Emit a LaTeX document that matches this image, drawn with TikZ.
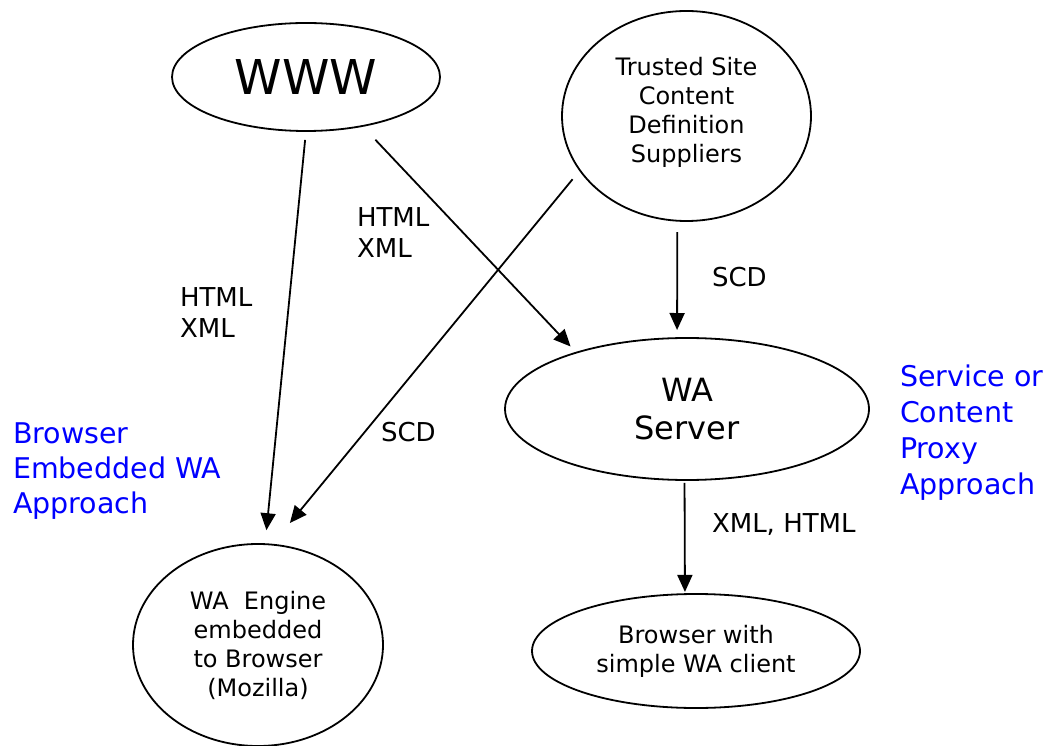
\documentclass[tikz,border=0pt]{standalone}
\usepackage{fontspec}
\setmainfont{DejaVu Sans}
\usetikzlibrary{arrows.meta,shapes.geometric}
\begin{document}
\begin{tikzpicture}[x=1pt,y=1pt,
  every node/.style={inner sep=0pt,outer sep=0pt},
  oval/.style={ellipse,draw,line width=1.8pt,align=center},
  mid/.style={font=\fontsize{24}{29}\selectfont},
  lbl/.style={anchor=base west,align=left,font=\fontsize{26}{31.5}\selectfont},
  approach/.style={anchor=base west,align=left,text={rgb,255:red,0;green,0;blue,255},
    font=\fontsize{28.5}{36}\selectfont},
  flow/.style={line width=1.8pt,-{Triangle[length=17pt,width=15pt]}}]
\useasboundingbox (0,0) rectangle (1054,745);

% sources
\node[oval,minimum width=268pt,minimum height=108pt,font=\fontsize{48}{52}\selectfont]
  (www) at (306,668) {WWW};
\node[oval,minimum width=249pt,minimum height=210pt,
  label={[mid,align=center,yshift=4pt]center:Trusted Site\\Content\\Definition\\Suppliers}]
  (ts) at (686.5,629) {};

% server and clients
\node[oval,minimum width=364pt,minimum height=142pt,font=\fontsize{32}{38}\selectfont]
  (srv) at (687,336) {WA\\Server};
\node[oval,mid,minimum width=328pt,minimum height=114pt]
  (bwc) at (696,94) {Browser with\\simple WA client};
\node[oval,mid,minimum width=250pt,minimum height=202pt]
  (eng) at (258,100) {WA~~Engine\\embedded\\to Browser\\(Mozilla)};

% data flows
\draw[flow,shorten <=9pt,shorten >=14pt] (www.-90) -- (eng.86.25);
\draw[flow,shorten <=19pt,shorten >=8.4pt] (www.-41.2) -- (srv.153.5);
\draw[flow,shorten <=11.6pt,shorten >=28pt] (ts.207.45) -- (eng.82.5);
\draw[flow,shorten <=11.4pt,shorten >=8.1pt] (ts.-95.73) -- (srv.98.82);
\draw[flow,shorten <=3pt,shorten >=2.2pt] (srv.-92.42) -- (bwc.101.92);

% flow labels (base = baseline of the last line)
\node[lbl] (l1) at (180,407) {HTML\\XML};
\node[lbl] (l2) at (357,487) {HTML\\XML};
\node[lbl] (l3) at (712,458) {SCD};
\node[lbl] (l4) at (381,304) {SCD};
\node[lbl] (l5) at (712,213) {XML, HTML};

% approach captions
\node[approach,font=\fontsize{28.5}{35}\selectfont] (a1) at (13,232) {Browser\\Embedded WA\\Approach};
\node[approach] (a2) at (900,251) {Service or\\Content\\Proxy\\Approach};
\end{tikzpicture}
\end{document}
